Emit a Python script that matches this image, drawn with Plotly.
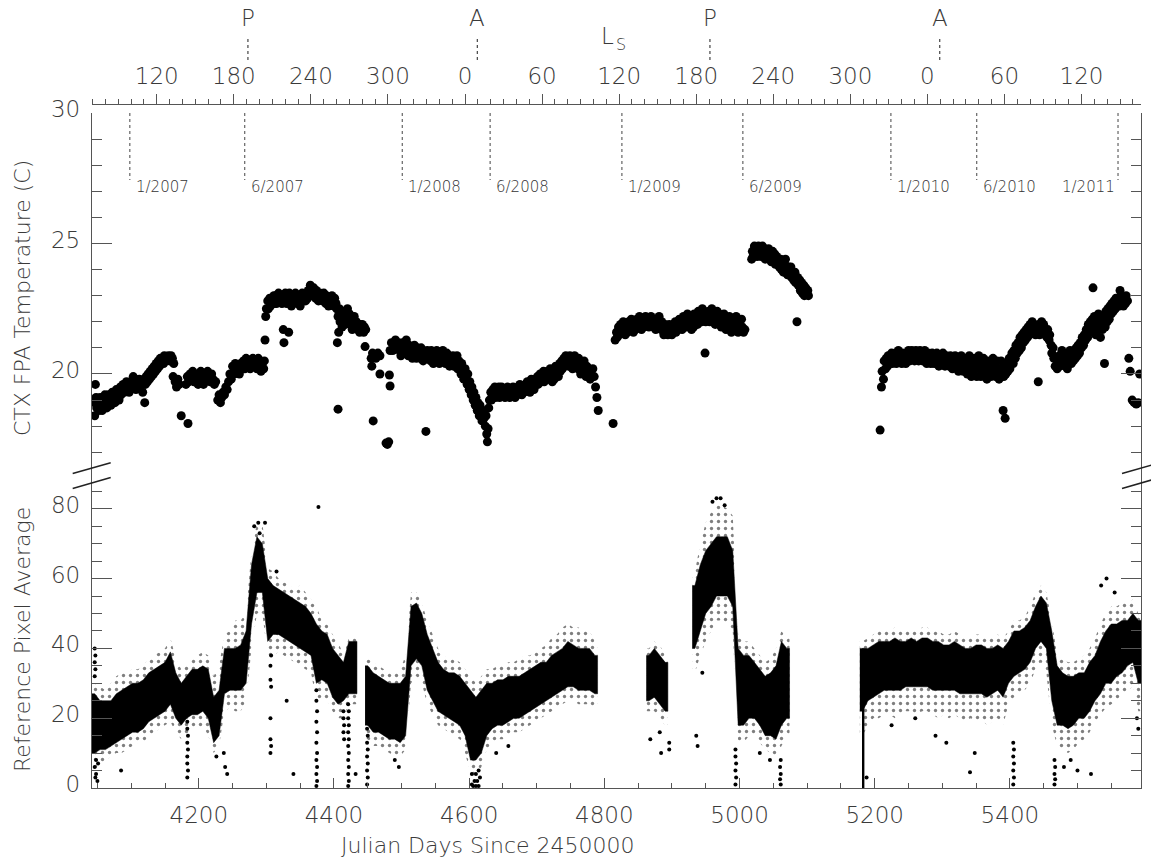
import plotly.graph_objects as go

# ---------------- axis values ----------------
jd_range = [4042, 5594]            # Julian days since 2450000
ls_range = [69.6, 886.3]           # unwrapped Ls (deg)
temp_range = [16.09, 30]
ref_range = [0, 89.4]

jd_ticks = [4200, 4400, 4600, 4800, 5000, 5200, 5400]
ls_tickvals = [120, 180, 240, 300, 360, 420, 480, 540, 600, 660, 720, 780, 840]
ls_ticktext = ["120", "180", "240", "300", "0", "60", "120", "180", "240", "300", "0", "60", "120"]
temp_ticks = [20, 25, 30]
ref_ticks = [0, 20, 40, 60, 80]

orbit_labels = ["P", "A", "P", "A"]
orbit_ls = [191, 369.6, 550.7, 729.6]

date_labels = ["1/2007", "6/2007", "1/2008", "6/2008", "1/2009", "6/2009", "1/2010", "6/2010", "1/2011"]
date_days = [4098, 4268, 4501, 4631, 4826, 5005, 5224, 5351, 5560]

# ---------------- CTX FPA temperature (day, C) ----------------
temp_2007 = [
    (4046, 18.4), (4047, 19.6), (4046, 18.9), (4048, 19.1), (4049, 18.7), (4051, 19.0), (4052, 18.6),
    (4054, 19.1), (4055, 18.8), (4057, 18.6), (4058, 19.0), (4060, 18.8), (4061, 19.2), (4063, 18.9),
    (4064, 18.7), (4066, 19.2), (4067, 18.9), (4069, 19.1), (4070, 18.8), (4072, 19.3), (4073, 19.0),
    (4075, 19.2), (4076, 18.9), (4078, 19.4), (4079, 19.1), (4081, 19.3), (4082, 19.0), (4084, 19.5),
    (4085, 19.2), (4087, 19.4), (4088, 19.6), (4090, 19.3), (4091, 19.5), (4093, 19.7), (4094, 19.4),
    (4096, 19.6), (4097, 19.3), (4099, 19.7), (4100, 19.5), (4103, 19.9), (4104, 19.5), (4106, 19.8),
    (4107, 19.4), (4109, 19.7), (4110, 19.5), (4112, 19.8), (4113, 19.5), (4115, 19.6), (4117, 19.3),
    (4120, 18.9), (4119, 19.8), (4121, 19.6), (4122, 19.9), (4124, 19.7), (4125, 20.0), (4127, 19.8),
    (4128, 20.1), (4130, 19.9), (4131, 20.2), (4133, 20.0), (4134, 20.3), (4136, 20.1), (4137, 20.4),
    (4139, 20.2), (4140, 20.5), (4142, 20.3), (4143, 20.6), (4145, 20.4), (4146, 20.6), (4148, 20.4),
    (4149, 20.7), (4151, 20.5), (4153, 20.6), (4155, 20.7), (4157, 20.5), (4159, 20.7), (4161, 20.6),
    (4163, 20.4), (4162, 19.9), (4165, 19.7), (4167, 19.5), (4169, 19.8), (4171, 19.6), (4174, 18.4),
    (4184, 18.1), (4181, 19.6), (4183, 19.9), (4185, 19.7), (4187, 20.0), (4189, 19.8), (4191, 20.1),
    (4193, 19.7), (4195, 20.0), (4197, 19.8), (4199, 19.6), (4201, 19.9), (4203, 20.1), (4205, 19.8),
    (4207, 19.6), (4209, 20.0), (4211, 19.8), (4213, 20.1), (4215, 19.9), (4217, 19.7), (4219, 20.0),
    (4221, 19.8), (4223, 19.6), (4225, 19.7), (4228, 19.0), (4230, 19.2), (4232, 18.9), (4234, 19.1),
    (4236, 19.3), (4238, 19.2), (4240, 19.5), (4242, 19.4), (4244, 19.7), (4246, 20.0), (4248, 19.8),
    (4250, 20.3), (4252, 20.0), (4254, 20.4), (4256, 20.1), (4258, 20.3), (4260, 20.0), (4262, 20.4),
    (4264, 20.2), (4266, 20.5), (4268, 20.2), (4270, 20.6), (4272, 20.3), (4274, 20.5), (4276, 20.2),
    (4278, 20.4), (4280, 20.6), (4282, 20.3), (4284, 20.5), (4286, 20.2), (4288, 20.6), (4290, 20.3),
    (4292, 20.1), (4294, 20.4), (4296, 20.2), (4297, 20.5),
    (4298, 21.3), (4299, 22.2), (4300, 22.5), (4302, 22.8), (4303, 22.5), (4305, 22.9), (4306, 22.6),
    (4308, 22.9), (4309, 22.7), (4311, 23.0), (4312, 22.7), (4314, 23.0), (4315, 22.7), (4317, 22.9),
    (4318, 23.1), (4320, 22.8), (4321, 23.0), (4325, 21.7), (4326, 21.2), (4333, 21.6),
    (4323, 22.7), (4324, 23.0), (4327, 22.8), (4328, 23.1), (4330, 22.7), (4331, 22.9), (4334, 23.1),
    (4335, 22.8), (4337, 22.6), (4338, 23.0), (4340, 22.7), (4341, 22.9), (4343, 23.1), (4344, 22.8),
    (4346, 23.0), (4347, 22.7), (4349, 22.9), (4350, 22.6), (4352, 22.9), (4353, 23.1), (4355, 22.8),
    (4356, 23.0), (4358, 22.8), (4359, 23.1), (4361, 22.9), (4362, 23.2), (4364, 23.0), (4365, 23.4),
    (4367, 23.2), (4368, 23.0), (4370, 23.3), (4371, 23.1), (4373, 22.9), (4374, 23.2), (4376, 23.0),
    (4377, 22.8), (4379, 23.1), (4380, 22.9), (4382, 23.0), (4383, 22.8), (4385, 23.1), (4386, 22.9),
    (4388, 22.7), (4389, 23.0), (4391, 22.8), (4392, 22.6), (4394, 22.9), (4395, 22.7), (4397, 23.0),
    (4398, 22.8), (4400, 22.6), (4401, 22.9), (4403, 22.7), (4404, 22.5),
    (4405, 21.2), (4406, 18.65), (4407, 21.6),
    (4406, 22.2), (4408, 22.5), (4409, 22.0), (4411, 22.3), (4412, 21.8), (4414, 22.1), (4415, 22.4),
    (4417, 21.9), (4418, 22.2), (4420, 22.5), (4421, 22.0), (4423, 22.3), (4424, 21.9), (4426, 22.1),
    (4427, 21.7), (4429, 22.0), (4430, 22.2), (4432, 21.8), (4433, 22.0), (4435, 21.7), (4436, 21.9),
    (4438, 21.6), (4439, 21.9), (4441, 21.7), (4442, 21.9), (4444, 21.6), (4445, 21.8), (4447, 21.7),
    (4446, 21.05), (4455, 20.6), (4457, 20.8), (4460, 20.7), (4462, 20.6), (4465, 20.8), (4468, 20.7),
    (4456, 20.3), (4458, 18.2), (4468, 20.0), (4477, 17.35), (4479, 17.3), (4481, 17.4), (4482, 19.96),
    (4483, 19.54), (4483, 20.9), (4485, 21.2), (4487, 20.9), (4489, 21.1), (4491, 21.3), (4493, 21.0),
    (4495, 21.2), (4497, 20.9),
]

temp_2008 = [
    (4498, 21.0), (4499, 20.7), (4501, 21.2), (4502, 20.9), (4504, 21.1), (4505, 20.8), (4507, 21.3),
    (4508, 20.9), (4510, 20.7), (4511, 21.1), (4513, 20.8), (4514, 21.0), (4516, 20.6), (4517, 20.9),
    (4519, 21.1), (4520, 20.8), (4522, 20.6), (4523, 21.0), (4525, 20.7), (4526, 20.9), (4528, 20.6),
    (4529, 21.0), (4531, 20.8), (4532, 20.5), (4534, 20.8), (4536, 17.8), (4537, 20.6), (4538, 20.9),
    (4540, 20.6), (4541, 20.8), (4543, 20.5), (4544, 20.9), (4546, 20.7), (4547, 20.4), (4549, 20.8),
    (4550, 20.6), (4552, 20.9), (4553, 20.5), (4555, 20.7), (4556, 20.4), (4558, 20.8), (4559, 20.6),
    (4561, 20.9), (4562, 20.5), (4564, 20.7), (4565, 20.4), (4567, 20.8), (4568, 20.5), (4570, 20.7),
    (4571, 20.3), (4573, 20.6), (4574, 20.4), (4576, 20.7), (4577, 20.3), (4579, 20.6), (4580, 20.4),
    (4582, 20.7), (4583, 20.2), (4585, 20.5), (4586, 20.3), (4588, 20.0), (4589, 20.4), (4591, 20.1),
    (4592, 19.8), (4594, 20.2), (4595, 19.9), (4597, 19.6), (4598, 20.0), (4600, 19.4), (4601, 19.7),
    (4603, 19.2), (4604, 19.5), (4606, 19.0), (4607, 19.3), (4609, 18.8), (4610, 19.1), (4612, 18.6),
    (4613, 18.9), (4615, 18.4), (4616, 18.8), (4618, 18.5), (4619, 18.2), (4621, 18.6), (4622, 18.3),
    (4624, 18.0), (4625, 18.4), (4626, 17.7), (4627, 17.4), (4628, 17.9), (4629, 18.7), (4630, 19.0),
    (4632, 19.3), (4633, 19.0), (4635, 19.4), (4636, 19.2), (4638, 19.5), (4639, 19.1), (4641, 19.4),
    (4642, 19.2), (4644, 19.5), (4645, 19.1), (4647, 19.3), (4648, 19.5), (4650, 19.2), (4651, 19.4),
    (4653, 19.1), (4654, 19.4), (4656, 19.2), (4657, 19.5), (4659, 19.3), (4660, 19.1), (4662, 19.4),
    (4663, 19.2), (4665, 19.5), (4666, 19.3), (4668, 19.1), (4669, 19.4), (4671, 19.2), (4672, 19.5),
    (4674, 19.3), (4675, 19.6), (4677, 19.4), (4678, 19.2), (4680, 19.5), (4681, 19.3), (4683, 19.6),
    (4684, 19.4), (4686, 19.7), (4687, 19.4), (4689, 19.6), (4690, 19.3), (4692, 19.8), (4693, 19.5),
    (4695, 19.7), (4696, 19.4), (4698, 19.8), (4699, 19.6), (4701, 19.9), (4702, 19.6), (4704, 19.8),
    (4705, 20.0), (4707, 19.7), (4708, 19.9), (4710, 20.1), (4711, 19.7), (4713, 20.0), (4714, 19.8),
    (4716, 20.1), (4717, 19.8), (4719, 20.0), (4720, 20.2), (4722, 19.9), (4723, 19.7), (4725, 20.1),
    (4726, 19.8), (4728, 20.3), (4729, 20.0), (4731, 20.2), (4732, 19.9), (4734, 20.4), (4735, 20.1),
    (4737, 20.5), (4738, 20.2), (4740, 20.6), (4741, 20.3), (4743, 20.7), (4744, 20.4), (4746, 20.6),
    (4747, 20.3), (4749, 20.7), (4750, 20.4), (4752, 20.6), (4753, 20.2), (4755, 20.5), (4756, 20.7),
    (4758, 20.3), (4759, 20.5), (4761, 20.2), (4762, 20.6), (4764, 20.3), (4765, 20.0), (4767, 20.4),
    (4768, 20.1), (4770, 20.5), (4771, 20.2), (4773, 19.9), (4774, 20.3), (4776, 20.0), (4777, 20.2),
    (4779, 19.8), (4780, 20.1), (4782, 19.9), (4783, 20.2), (4785, 19.9), (4787, 19.5), (4789, 19.1),
    (4791, 18.6),
]

temp_2009 = [
    (4813, 18.1), (4816, 21.3), (4818, 21.6), (4819, 21.4), (4821, 21.8), (4822, 21.5), (4824, 21.9),
    (4825, 21.6), (4827, 21.8), (4828, 22.0), (4830, 21.7), (4831, 21.5), (4833, 21.9), (4834, 21.6),
    (4836, 22.0), (4837, 21.7), (4839, 21.9), (4840, 22.1), (4842, 21.8), (4843, 21.6), (4845, 22.0),
    (4846, 21.7), (4848, 22.1), (4849, 21.8), (4851, 22.0), (4852, 22.2), (4854, 21.9), (4855, 21.7),
    (4857, 22.1), (4858, 21.8), (4860, 22.0), (4861, 22.2), (4863, 21.9), (4864, 22.1), (4866, 21.8),
    (4867, 22.0), (4869, 22.2), (4870, 21.9), (4872, 22.1), (4873, 21.8), (4875, 22.0), (4876, 21.7),
    (4878, 22.1), (4879, 21.8), (4881, 22.2), (4882, 21.9), (4884, 21.7), (4885, 22.0), (4887, 21.8),
    (4888, 21.5), (4890, 21.9), (4891, 21.6), (4893, 21.8), (4894, 21.5), (4896, 21.9), (4897, 21.6),
    (4899, 21.8), (4900, 21.5), (4902, 21.9), (4903, 21.7), (4905, 22.0), (4906, 21.6), (4908, 21.9),
    (4909, 21.7), (4911, 22.1), (4912, 21.8), (4914, 22.0), (4915, 21.7), (4917, 22.2), (4918, 21.9),
    (4920, 22.1), (4921, 21.8), (4923, 22.3), (4924, 22.0), (4926, 22.2), (4927, 21.9), (4929, 21.7),
    (4930, 22.1), (4932, 21.8), (4933, 22.3), (4935, 22.0), (4936, 22.2), (4938, 21.9), (4939, 22.4),
    (4941, 22.1), (4942, 22.3), (4944, 22.0), (4945, 22.5), (4947, 22.2), (4948, 22.4), (4949, 20.8),
    (4950, 22.0), (4952, 22.3), (4953, 22.1), (4955, 22.4), (4956, 22.0), (4958, 22.3), (4959, 22.5),
    (4961, 22.1), (4962, 22.3), (4964, 21.9), (4965, 22.2), (4967, 22.4), (4968, 22.0), (4970, 22.3),
    (4971, 22.1), (4973, 21.8), (4974, 22.2), (4976, 21.9), (4977, 22.3), (4979, 22.0), (4980, 21.7),
    (4982, 22.1), (4983, 21.8), (4985, 22.2), (4986, 21.9), (4988, 21.6), (4989, 22.0), (4991, 21.7),
    (4992, 22.1), (4994, 21.8), (4995, 22.2), (4997, 21.9), (4998, 21.6), (5000, 22.0), (5001, 21.7),
    (5003, 22.1), (5004, 21.8), (5006, 21.6), (5008, 21.7),
    (5018, 24.4), (5019, 24.7), (5020, 24.5), (5022, 24.9), (5023, 24.6), (5025, 24.8), (5026, 24.5),
    (5028, 24.9), (5029, 24.6), (5031, 24.8), (5032, 24.5), (5034, 24.9), (5035, 24.6), (5037, 24.8),
    (5038, 24.4), (5040, 24.7), (5041, 24.5), (5043, 24.8), (5044, 24.4), (5046, 24.6), (5047, 24.3),
    (5049, 24.7), (5050, 24.4), (5052, 24.6), (5053, 24.2), (5055, 24.5), (5056, 24.2), (5058, 24.4),
    (5059, 24.1), (5061, 24.4), (5062, 24.0), (5064, 24.3), (5065, 23.9), (5067, 24.2), (5068, 24.4),
    (5070, 24.0), (5071, 23.8), (5073, 24.1), (5074, 23.8), (5076, 24.1), (5077, 23.7), (5079, 23.9),
    (5080, 23.6), (5082, 23.9), (5083, 23.5), (5085, 22.0), (5086, 23.7), (5087, 23.4), (5089, 23.6),
    (5090, 23.2), (5092, 23.5), (5093, 23.1), (5095, 23.4), (5096, 23.0), (5098, 23.3), (5099, 23.1),
    (5101, 23.2), (5102, 23.0),
]

temp_2010 = [
    (5208, 17.85), (5210, 19.5), (5211, 20.1), (5213, 19.8), (5214, 20.5), (5216, 20.2), (5217, 20.6),
    (5219, 20.3), (5220, 20.7), (5222, 20.4), (5223, 20.6), (5225, 20.8), (5226, 20.4), (5228, 20.7),
    (5229, 20.5), (5231, 20.8), (5232, 20.4), (5234, 20.6), (5235, 20.9), (5237, 20.5), (5238, 20.7),
    (5240, 20.4), (5241, 20.8), (5243, 20.5), (5244, 20.7), (5246, 20.4), (5247, 20.8), (5249, 20.6),
    (5250, 20.9), (5252, 20.5), (5253, 20.7), (5255, 20.9), (5256, 20.6), (5258, 20.8), (5259, 20.5),
    (5261, 20.9), (5262, 20.6), (5264, 20.8), (5265, 20.5), (5267, 20.9), (5268, 20.6), (5270, 20.8),
    (5271, 20.5), (5273, 20.7), (5274, 20.9), (5276, 20.6), (5277, 20.4), (5279, 20.8), (5280, 20.5),
    (5282, 20.7), (5283, 20.4), (5285, 20.8), (5286, 20.6), (5288, 20.4), (5289, 20.7), (5291, 20.5),
    (5292, 20.8), (5294, 20.5), (5295, 20.3), (5297, 20.7), (5298, 20.4), (5300, 20.6), (5301, 20.8),
    (5303, 20.5), (5304, 20.3), (5306, 20.7), (5307, 20.4), (5309, 20.6), (5310, 20.3), (5312, 20.7),
    (5313, 20.5), (5315, 20.2), (5316, 20.6), (5318, 20.4), (5319, 20.7), (5321, 20.3), (5322, 20.5),
    (5324, 20.1), (5325, 20.6), (5327, 20.3), (5328, 20.7), (5330, 20.4), (5331, 20.1), (5333, 20.5),
    (5334, 20.2), (5336, 20.6), (5337, 20.0), (5339, 20.4), (5340, 20.7), (5342, 20.2), (5343, 19.9),
    (5345, 20.5), (5346, 20.1), (5348, 20.6), (5349, 20.3), (5351, 19.9), (5352, 20.4), (5354, 20.7),
    (5355, 20.2), (5357, 19.9), (5358, 20.5), (5360, 20.1), (5361, 20.6), (5363, 20.0), (5364, 20.3),
    (5366, 19.8), (5367, 20.5), (5369, 20.1), (5370, 20.4), (5372, 19.9), (5373, 20.3), (5375, 20.6),
    (5376, 20.0), (5378, 20.3), (5379, 19.9), (5381, 20.5), (5382, 20.1), (5384, 19.8), (5385, 20.2),
    (5387, 20.5), (5390, 18.6), (5393, 18.3), (5391, 19.9), (5392, 20.3), (5394, 20.0), (5396, 20.4),
    (5397, 20.1), (5399, 20.6), (5400, 20.2), (5402, 20.5), (5403, 20.8), (5405, 20.4), (5406, 20.9),
    (5408, 20.6), (5409, 21.1), (5411, 20.8), (5412, 21.2), (5414, 20.9), (5415, 21.4), (5417, 21.0),
    (5418, 21.5), (5420, 21.2), (5421, 21.6), (5423, 21.3), (5424, 21.7), (5426, 21.4), (5427, 21.8),
    (5429, 21.5), (5430, 21.9), (5432, 21.6), (5433, 22.0), (5435, 21.7), (5436, 21.9), (5438, 21.5),
    (5439, 21.8), (5442, 19.7), (5441, 21.6), (5443, 21.9), (5444, 21.5), (5446, 21.8), (5447, 22.0),
    (5449, 21.6), (5450, 21.9), (5452, 21.5), (5453, 21.7), (5455, 21.4), (5456, 21.7), (5458, 21.3),
    (5459, 21.5), (5461, 21.1), (5462, 20.8), (5464, 21.0), (5465, 20.6), (5467, 20.3), (5468, 20.6),
    (5470, 20.2), (5471, 20.5), (5473, 20.7), (5474, 20.3), (5476, 20.6), (5477, 20.9), (5479, 20.4),
    (5480, 20.7), (5482, 20.3), (5483, 20.6), (5485, 20.2), (5486, 20.8), (5488, 20.5), (5489, 20.9),
    (5491, 20.4), (5492, 20.7), (5494, 20.5), (5495, 20.9), (5497, 20.6), (5498, 21.0), (5500, 20.7),
    (5501, 21.1), (5503, 20.8), (5504, 21.2), (5506, 21.0), (5507, 21.4), (5509, 21.1), (5510, 21.5),
    (5512, 21.3), (5513, 21.7), (5515, 21.4), (5516, 21.9), (5518, 21.6), (5519, 22.0), (5521, 21.7),
    (5523, 23.3), (5522, 22.1), (5524, 21.8), (5525, 22.2), (5527, 21.5), (5528, 22.0), (5530, 21.7),
    (5531, 22.3), (5533, 21.9), (5534, 21.4), (5536, 22.1), (5537, 21.7), (5539, 22.2), (5540, 20.4),
    (5541, 21.8), (5542, 22.4), (5544, 22.0), (5545, 22.5), (5547, 22.1), (5548, 22.6), (5550, 22.3),
    (5551, 22.7), (5553, 22.4), (5554, 22.8), (5556, 22.5), (5557, 22.9), (5559, 22.6), (5560, 22.9),
    (5562, 22.6), (5563, 23.2), (5565, 22.7), (5566, 22.9), (5568, 22.6), (5569, 22.9), (5571, 22.7),
    (5572, 23.0), (5574, 22.8), (5576, 20.6), (5578, 20.1), (5581, 19.0), (5584, 18.9), (5587, 18.85),
    (5590, 18.9), (5592, 20.0),
]

# ---------------- Reference pixel average per 8-day bin ----------------
# dense core (lo/hi) and sparse outer extent (olo/ohi)
ref_day = [
    4046, 4054, 4062, 4070, 4078, 4086, 4094, 4102, 4110, 4118, 4126, 4134, 4142, 4150, 4158, 4166, 4174,
    4182, 4190, 4198, 4206, 4214, 4222, 4230, 4238, 4246, 4254, 4262, 4270, 4278, 4286, 4294, 4302, 4310,
    4318, 4326, 4334, 4342, 4350, 4358, 4366, 4374, 4382, 4390, 4398, 4406, 4414, 4422, 4430,
    4450, 4458, 4466, 4474, 4482, 4490, 4498, 4506, 4514, 4522, 4530, 4538, 4546, 4554, 4562, 4570, 4578,
    4586, 4594, 4602, 4610, 4618, 4626, 4634, 4642, 4650, 4658, 4666, 4674, 4682, 4690, 4698, 4706, 4714,
    4722, 4730, 4738, 4746, 4754, 4762, 4770, 4778, 4786,
    4866, 4874, 4882, 4890,
    4934, 4942, 4950, 4958, 4966, 4974, 4982, 4990, 4998, 5006, 5014, 5022, 5030, 5038, 5046, 5054, 5062, 5070,
    5182, 5190, 5198, 5206, 5214, 5222, 5230, 5238, 5246, 5254, 5262, 5270, 5278, 5286, 5294, 5302, 5310,
    5318, 5326, 5334, 5342, 5350, 5358, 5366, 5374, 5382, 5390, 5398, 5406, 5414, 5422, 5430, 5438, 5446,
    5454, 5462, 5470, 5478, 5486, 5494, 5502, 5510, 5518, 5526, 5534, 5542, 5550, 5558, 5566, 5574, 5582, 5590,
]
ref_lo = [
    10, 11, 11, 12, 13, 14, 15, 16, 16, 17, 19, 20, 21, 22, 24, 20, 18,
    20, 21, 21, 22, 20, 13, 15, 27, 28, 28, 28, 30, 47, 56, 56, 42, 44,
    44, 43, 42, 41, 40, 39, 38, 30, 31, 30, 26, 24, 25, 27, 27,
    18, 16, 16, 15, 14, 14, 13, 15, 35, 37, 35, 28, 25, 22, 21, 20, 19,
    18, 15, 8, 8, 10, 15, 17, 18, 18, 19, 20, 20, 21, 22, 23, 24, 25,
    26, 27, 28, 29, 29, 28, 28, 28, 27,
    25, 26, 24, 22,
    40, 45, 50, 52, 55, 55, 55, 52, 18, 18, 20, 20, 18, 15, 15, 14, 18, 20,
    22, 25, 26, 27, 28, 28, 28, 28, 29, 29, 29, 29, 29, 28, 28, 28, 28,
    28, 27, 27, 27, 27, 27, 26, 27, 28, 26, 30, 32, 33, 34, 36, 40, 42,
    40, 25, 18, 18, 17, 18, 20, 20, 22, 25, 27, 30, 30, 32, 33, 35, 36, 30,
]
ref_hi = [
    27, 25, 25, 25, 27, 28, 29, 30, 30, 31, 33, 34, 35, 36, 39, 33, 30,
    32, 34, 34, 35, 34, 26, 28, 40, 40, 40, 41, 45, 64, 72, 70, 60, 58,
    57, 56, 55, 54, 53, 52, 50, 47, 45, 44, 40, 38, 36, 42, 42,
    35, 33, 32, 31, 30, 30, 30, 32, 52, 53, 50, 44, 40, 36, 34, 33, 33,
    32, 30, 28, 26, 28, 30, 30, 31, 31, 32, 32, 32, 33, 34, 35, 36, 36,
    38, 39, 40, 42, 41, 40, 40, 40, 38,
    38, 40, 38, 36,
    58, 64, 68, 70, 72, 72, 72, 68, 40, 38, 38, 36, 34, 32, 33, 35, 42, 40,
    40, 40, 41, 42, 42, 42, 43, 42, 42, 43, 42, 43, 43, 42, 42, 41, 41,
    42, 41, 40, 40, 41, 41, 40, 40, 41, 40, 42, 45, 45, 46, 48, 52, 55,
    53, 45, 35, 33, 32, 32, 33, 33, 36, 38, 42, 45, 47, 47, 48, 48, 50, 48,
]
ref_olo = [
    5, 7, 8, 9, 10, 10, 11, 12, 13, 13, 15, 16, 17, 18, 19, 16, 14,
    15, 17, 17, 18, 15, 10, 12, 22, 23, 22, 22, 25, 40, 50, 50, 38, 38,
    39, 38, 37, 36, 35, 34, 33, 25, 26, 25, 22, 20, 20, 24, 24,
    14, 12, 12, 11, 10, 9, 9, 11, 30, 32, 30, 24, 21, 18, 17, 16, 15,
    14, 10, 4, 3, 6, 11, 13, 14, 14, 15, 16, 16, 17, 18, 19, 20, 21,
    22, 23, 24, 25, 25, 24, 24, 24, 23,
    22, 22, 20, 18,
    33, 38, 42, 45, 48, 48, 47, 45, 13, 13, 15, 15, 13, 11, 10, 9, 12, 15,
    15, 18, 20, 20, 21, 21, 20, 21, 22, 22, 21, 22, 22, 21, 20, 21, 20,
    21, 20, 19, 20, 19, 20, 18, 19, 20, 18, 24, 26, 27, 28, 30, 34, 36,
    33, 18, 12, 11, 10, 11, 13, 14, 16, 19, 21, 23, 24, 25, 27, 28, 29, 22,
]
ref_ohi = [
    30, 29, 28, 30, 32, 33, 33, 34, 34, 35, 37, 38, 39, 40, 43, 37, 34,
    35, 37, 38, 39, 38, 32, 35, 44, 45, 48, 48, 50, 68, 76, 76, 63, 62,
    60, 59, 58, 57, 58, 56, 54, 52, 48, 47, 44, 42, 38, 43, 43,
    37, 36, 35, 34, 33, 33, 34, 38, 56, 56, 53, 48, 44, 40, 38, 37, 37,
    36, 34, 32, 30, 32, 34, 34, 35, 35, 36, 36, 37, 38, 38, 39, 40, 41,
    43, 44, 46, 47, 46, 46, 45, 45, 42,
    40, 42, 41, 38,
    62, 70, 76, 79, 81, 81, 80, 78, 44, 42, 42, 40, 38, 36, 37, 40, 45, 43,
    42, 43, 44, 45, 45, 45, 46, 45, 45, 46, 45, 46, 46, 45, 45, 44, 44,
    45, 44, 43, 43, 44, 44, 43, 43, 44, 43, 45, 48, 48, 49, 52, 56, 58,
    56, 48, 38, 37, 36, 36, 37, 38, 40, 43, 47, 50, 52, 52, 53, 53, 54, 50,
]

# one dense vertical streak (day, lo, hi)
ref_column = [(5183, 0, 40)]

# scattered single samples outside the dense core (day, value)
ref_scatter = [
    (4046, 40), (4047, 38), (4046, 36), (4047, 34), (4046, 32), (4048, 8), (4046, 6), (4048, 4),
    (4047, 3), (4050, 2), (4051, 7), (4085, 5),
    (4183, 19), (4183, 17), (4184, 15), (4183, 13), (4184, 11), (4183, 9), (4183, 7), (4184, 5), (4183, 3),
    (4226, 9), (4237, 10), (4239, 6), (4242, 4), (4282, 75), (4288, 76), (4298, 76), (4290, 73),
    (4307, 38), (4306, 35), (4306, 31), (4307, 29), (4306, 20), (4306, 14), (4307, 12), (4306, 10),
    (4315, 62), (4330, 25), (4340, 4),
    (4374, 28), (4374, 25), (4375, 22), (4374, 19), (4375, 16), (4374, 13), (4375, 10), (4374, 8),
    (4375, 6), (4374, 4), (4375, 2), (4374, 0.6), (4377, 80.5),
    (4414, 22), (4414, 20), (4415, 18), (4414, 16), (4415, 14),
    (4421, 24), (4422, 22), (4421, 20), (4422, 18), (4421, 16), (4422, 14), (4421, 12), (4422, 10),
    (4421, 8), (4422, 6), (4421, 4), (4422, 2), (4421, 0.6), (4432, 4),
    (4449, 17), (4450, 15), (4449, 13), (4450, 11), (4449, 9), (4450, 7), (4449, 5), (4450, 3), (4449, 1),
    (4490, 8), (4496, 6),
    (4604, 1), (4604, 4), (4606, 0.6), (4608, 2), (4610, 0.6), (4610, 4), (4612, 2), (4614, 0.6),
    (4614, 5), (4616, 3), (4640, 10), (4658, 12),
    (4868, 14), (4882, 16), (4884, 10), (4896, 13), (4896, 11),
    (4936, 15), (4938, 12), (4945, 33), (4960, 82), (4966, 83), (4972, 83), (4978, 81),
    (4994, 11), (4994, 9), (4995, 7), (4994, 5), (4995, 3), (4994, 1),
    (5030, 10), (5045, 8), (5061, 8), (5060, 6), (5061, 4), (5060, 2.5), (5061, 1),
    (5188, 3), (5225, 18), (5260, 20), (5290, 15), (5306, 13), (5341, 4.5), (5348, 10),
    (5405, 13), (5406, 11), (5405, 9), (5406, 7), (5405, 5), (5406, 3), (5405, 1),
    (5466, 8), (5467, 6), (5466, 4), (5467, 2.5), (5466, 1), (5480, 6), (5490, 8), (5500, 5), (5520, 4),
    (5535, 58), (5543, 60), (5555, 56), (5588, 20), (5590, 17),
]

# ---------------- style ----------------
FONT = "DejaVu Sans"
GRAY = "#555555"
TXT = "#3a3a3a"
W, H = 1151, 861
M_L, M_R, M_T, M_B = 92, 10, 104, 73
PLOT_H = H - M_T - M_B
BIN = 8


def py(ypix):
    return (H - M_B - ypix) / PLOT_H


def px(xpix):
    return (xpix - M_L) / (W - M_L - M_R)


def band_polygons(days, lo, hi):
    """closed outline per contiguous run of bins, separated by None"""
    xs, ys = [], []
    start = 0
    for i in range(1, len(days) + 1):
        if i == len(days) or days[i] - days[i - 1] > BIN + 2:
            d = days[start:i]
            l = lo[start:i]
            h = hi[start:i]
            top_x = [d[0] - BIN / 2] + d + [d[-1] + BIN / 2]
            top_y = [h[0]] + h + [h[-1]]
            bot_y = [l[0]] + l + [l[-1]]
            xs += top_x + top_x[::-1] + [None]
            ys += top_y + bot_y[::-1] + [None]
            start = i
    return xs, ys


frame_top = py(113)
brk = py(476)

temp_points = temp_2007 + temp_2008 + temp_2009 + temp_2010

fig = go.Figure()
fig.add_trace(go.Scatter(
    x=[p[0] for p in temp_points], y=[p[1] for p in temp_points],
    mode="markers", marker=dict(color="black", size=9, line=dict(width=0)),
    xaxis="x", yaxis="y", showlegend=False, hoverinfo="skip"))

ox, oy = band_polygons(ref_day, ref_olo, ref_ohi)
fig.add_trace(go.Scatter(
    x=ox, y=oy, mode="lines", fill="toself", line=dict(width=0), fillcolor="rgba(0,0,0,0)",
    fillpattern=dict(shape=".", fgcolor="black", bgcolor="rgba(0,0,0,0)", size=7, solidity=0.18),
    xaxis="x", yaxis="y2", showlegend=False, hoverinfo="skip"))
cx, cy = band_polygons(ref_day, ref_lo, ref_hi)
fig.add_trace(go.Scatter(
    x=cx, y=cy, mode="lines", fill="toself", line=dict(width=0.5, color="black"), fillcolor="black",
    xaxis="x", yaxis="y2", showlegend=False, hoverinfo="skip"))
fig.add_trace(go.Bar(
    x=[c[0] for c in ref_column], y=[c[2] - c[1] for c in ref_column], base=[c[1] for c in ref_column],
    width=3.5, marker=dict(color="black", line=dict(width=0)),
    xaxis="x", yaxis="y2", showlegend=False, hoverinfo="skip"))
fig.add_trace(go.Scatter(
    x=[p[0] for p in ref_scatter], y=[p[1] for p in ref_scatter],
    mode="markers", marker=dict(color="black", size=4, line=dict(width=0)),
    xaxis="x", yaxis="y2", showlegend=False, hoverinfo="skip"))

tickfont = dict(family=FONT, size=23, color=TXT, weight=200)
common = dict(showgrid=False, zeroline=False, linecolor=GRAY, linewidth=1.3, automargin=False,
              tickcolor=GRAY, tickwidth=1.3, tickfont=tickfont)
minor_style = dict(tickcolor=GRAY, tickwidth=1.3)

fig.update_layout(
    width=W, height=H, margin=dict(l=M_L, r=M_R, t=M_T, b=M_B, autoexpand=False),
    paper_bgcolor="white", plot_bgcolor="white", showlegend=False,
    font=dict(family=FONT, color=TXT, weight=200),
    xaxis=dict(domain=[0, 1], range=jd_range, anchor="y2", tickvals=jd_ticks, ticks="inside", ticklen=10,
               showline=True, mirror=False, ticklabelstandoff=6,
               minor=dict(dtick=50, tick0=4000, ticks="inside", ticklen=5, **minor_style), **common),
    xaxis3=dict(overlaying="x", anchor="free", position=1, side="top", range=ls_range,
                tickvals=ls_tickvals, ticktext=ls_ticktext, ticks="outside", ticklen=10, showline=True,
                ticklabelstandoff=1,
                minor=dict(dtick=10, tick0=0, ticks="outside", ticklen=5, **minor_style), **common),
    xaxis4=dict(overlaying="x", anchor="y", side="top", range=ls_range,
                tickvals=ls_tickvals, ticks="inside", ticklen=10, showline=True, showticklabels=False,
                minor=dict(dtick=10, tick0=0, ticks="inside", ticklen=5, **minor_style), **common),
    yaxis=dict(domain=[brk, frame_top], range=temp_range, anchor="x", tickvals=temp_ticks, ticks="inside",
               ticklen=20, showline=True, mirror="ticks", ticklabelshift=-4, ticklabelstandoff=6,
               minor=dict(dtick=1, tick0=0, ticks="inside", ticklen=10, **minor_style), **common),
    yaxis2=dict(domain=[0, brk], range=ref_range, anchor="x", tickvals=ref_ticks, ticks="inside",
                ticklen=20, showline=True, mirror="ticks", ticklabelshift=-4, ticklabelstandoff=6,
                minor=dict(dtick=5, tick0=0, ticks="inside", ticklen=10, **minor_style), **common),
)

shapes = []
for (x0, x1) in [(72.7, 110.7), (1122, 1160)]:
    for (y0, y1) in [(473.5, 462.7), (488.5, 477.5)]:
        shapes.append(dict(type="line", xref="paper", yref="paper", x0=px(x0), x1=px(x1),
                           y0=py(y0), y1=py(y1), line=dict(color="#222222", width=1.5)))
for d in date_days:
    shapes.append(dict(type="line", xref="x", yref="paper", x0=d, x1=d, y0=frame_top, y1=py(180),
                       line=dict(color="#444444", width=1, dash="dot")))
for ls in orbit_ls:
    shapes.append(dict(type="line", xref="x3", yref="paper", x0=ls, x1=ls, y0=py(60), y1=py(37),
                       line=dict(color="#444444", width=1.2, dash="dot")))
fig.update_layout(shapes=shapes)

ann = []
for lab, ls in zip(orbit_labels, orbit_ls):
    ann.append(dict(text=lab, x=ls, xref="x3", y=py(18), yref="paper", showarrow=False,
                    font=dict(family=FONT, size=23, color=TXT, weight=200), xanchor="center", yanchor="middle"))
for lab, d in zip(date_labels, date_days):
    last = lab == date_labels[-1]
    ann.append(dict(text=lab, x=d, xref="x", y=py(187), yref="paper", showarrow=False,
                    xanchor="right" if last else "left", xshift=-1 if last else 4, yanchor="middle",
                    font=dict(family=FONT, size=15, color="#333333", weight=200)))
ann.append(dict(text="L", x=px(607), xref="paper", y=py(36), yref="paper", showarrow=False,
                font=dict(family=FONT, size=23, color=TXT, weight=200), xanchor="center", yanchor="middle"))
ann.append(dict(text="S", x=px(621), xref="paper", y=py(45), yref="paper", showarrow=False,
                font=dict(family=FONT, size=16, color=TXT, weight=200), xanchor="center", yanchor="middle"))
ann.append(dict(text="CTX FPA Temperature (C)", x=px(22), xref="paper", y=py(298), yref="paper",
                showarrow=False, textangle=-90, xanchor="center", yanchor="middle",
                font=dict(family=FONT, size=22, color=TXT, weight=200)))
ann.append(dict(text="Reference Pixel Average", x=px(22), xref="paper", y=py(640), yref="paper",
                showarrow=False, textangle=-90, xanchor="center", yanchor="middle",
                font=dict(family=FONT, size=22, color=TXT, weight=200)))
ann.append(dict(text="Julian Days Since 2450000", x=px(488), xref="paper", y=py(845), yref="paper",
                showarrow=False, xanchor="center", yanchor="middle",
                font=dict(family=FONT, size=22, color=TXT, weight=200)))
fig.update_layout(annotations=ann)

# remove the default 8px page margin so the figure sits at the window's origin
fig.write_html("out.html", config={"displayModeBar": False},
               post_script="document.body.style.margin='0';")
